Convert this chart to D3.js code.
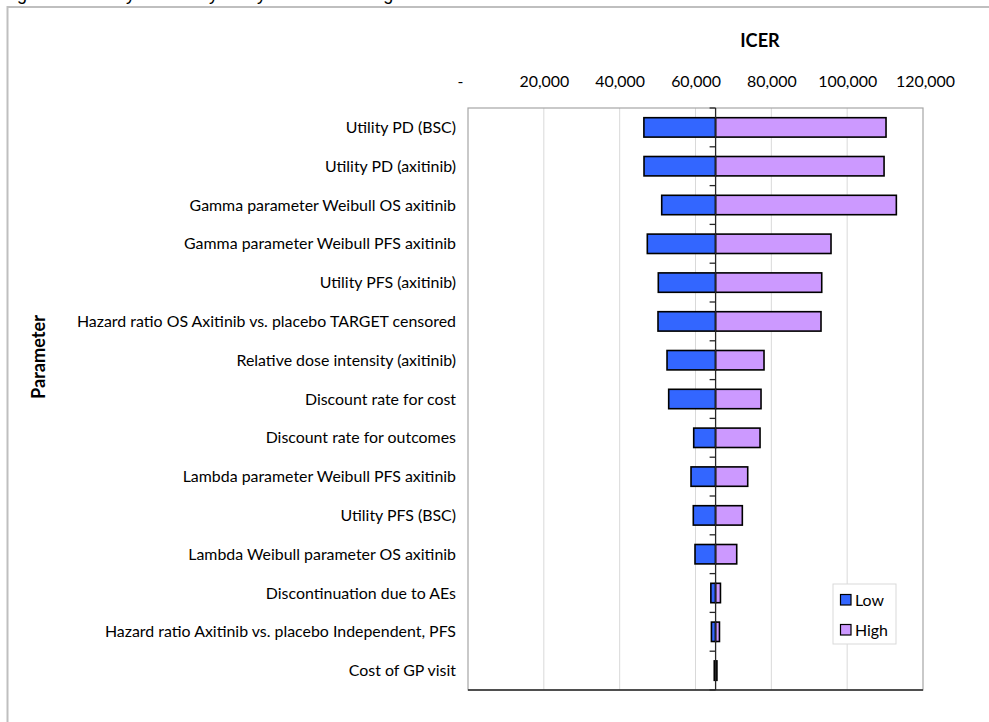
<!DOCTYPE html>
<html>
<head>
<meta charset="utf-8">
<script src="https://cdn.jsdelivr.net/npm/d3@7"></script>
<style>
  html, body { margin: 0; padding: 0; background: #fff; overflow: hidden; }
  svg { display: block; }
  text { font-family: Lato, "Open Sans", "Liberation Sans", sans-serif; fill: #000; }
</style>
</head>
<body>
<svg id="chart" width="989" height="722"></svg>
<script>
// ---- data ----
const categories = [
  "Utility PD (BSC)",
  "Utility PD (axitinib)",
  "Gamma parameter Weibull OS axitinib",
  "Gamma parameter Weibull PFS axitinib",
  "Utility PFS (axitinib)",
  "Hazard ratio OS Axitinib vs. placebo TARGET censored",
  "Relative dose intensity (axitinib)",
  "Discount rate for cost",
  "Discount rate for outcomes",
  "Lambda parameter Weibull PFS axitinib",
  "Utility PFS (BSC)",
  "Lambda Weibull parameter OS axitinib",
  "Discontinuation due to AEs",
  "Hazard ratio Axitinib vs. placebo Independent, PFS",
  "Cost of GP visit"
];
const lowValues  = [46390, 46420, 51090, 47290, 50190, 50110, 52490, 52930, 59530, 58820, 59420, 59870, 64050, 64200, 64950];
const highValues = [110250, 109730, 112970, 95740, 93290, 93100, 78070, 77280, 77020, 73770, 72350, 70870, 66580, 66320, 65650];
const baseValue = 65300;
const tickValues = [0, 20000, 40000, 60000, 80000, 100000, 120000];
const tickLabels = ["-", "20,000", "40,000", "60,000", "80,000", "100,000", "120,000"];
const seriesNames = ["Low", "High"];
const seriesColors = ["#3366FF", "#CC99FF"];
const titleText = "Figure: One-way sensitivity analysis tornado diagram";

// ---- layout ----
const svg = d3.select("#chart");
const plot = { left: 468, right: 923, top: 108, bottom: 690 };

// fit regular font so the longest category label is ~379px wide
const probe = svg.append("text").style("font-size", "14.67px")
  .text("Hazard ratio OS Axitinib vs. placebo TARGET censored");
const fontSize = 14.67 * 379 / probe.node().getComputedTextLength();
probe.remove();
const probeB = svg.append("text").style("font-size", "14.67px").style("font-weight", "bold").text("Parameter");
const boldSize = 14.67 * 84 / probeB.node().getComputedTextLength();
probeB.remove();

const x = d3.scaleLinear().domain([0, 120000]).range([plot.left, plot.right]);
const y = d3.scaleBand().domain(categories).range([plot.top, plot.bottom]).paddingInner(0.5).paddingOuter(0.25);

// cropped caption above the chart (only descenders visible)
svg.append("text")
  .attr("x", 2).attr("y", 0)
  .style("font-family", "'Liberation Sans', Arial, sans-serif")
  .style("font-size", "18px")
  .text(titleText);

// outer chart-area border
svg.append("rect")
  .attr("x", 7.5).attr("y", 7)
  .attr("width", 1100).attr("height", 900)
  .attr("fill", "none").attr("stroke", "#bfbfbf").attr("stroke-width", 2);

// gridlines
svg.append("g").selectAll("line")
  .data(tickValues.slice(1, -1))
  .join("line")
  .attr("x1", d => x(d)).attr("x2", d => x(d))
  .attr("y1", plot.top).attr("y2", plot.bottom)
  .attr("stroke", "#d9d9d9").attr("stroke-width", 1);

// plot border
svg.append("rect")
  .attr("x", plot.left).attr("y", plot.top)
  .attr("width", plot.right - plot.left).attr("height", plot.bottom - plot.top)
  .attr("fill", "none").attr("stroke", "#a6a6a6").attr("stroke-width", 1.2);
svg.append("line")
  .attr("x1", plot.left).attr("x2", plot.right)
  .attr("y1", plot.bottom).attr("y2", plot.bottom)
  .attr("stroke", "#262626").attr("stroke-width", 1.5);

// top value axis labels
const axis = d3.axisTop(x)
  .tickValues(tickValues)
  .tickFormat((d, i) => tickLabels[i])
  .tickSize(0).tickPadding(21);
const ax = svg.append("g").attr("transform", `translate(0,${plot.top})`).call(axis);
ax.select(".domain").remove();
ax.selectAll("text")
  .style("font-family", "Lato, 'Open Sans', sans-serif")
  .style("font-size", fontSize + "px")
  .attr("fill", "#000")
  .attr("dx", (d, i) => i === 0 ? -8 : (i === 6 ? 2 : 0));

// bars
const bars = svg.append("g");
categories.forEach((c, i) => {
  bars.append("rect")
    .attr("x", x(lowValues[i])).attr("y", y(c))
    .attr("width", x(baseValue) - x(lowValues[i])).attr("height", y.bandwidth())
    .attr("fill", seriesColors[0]).attr("stroke", "#000").attr("stroke-width", 1.6);
  bars.append("rect")
    .attr("x", x(baseValue)).attr("y", y(c))
    .attr("width", x(highValues[i]) - x(baseValue)).attr("height", y.bandwidth())
    .attr("fill", seriesColors[1]).attr("stroke", "#000").attr("stroke-width", 1.6);
});

// vertical category axis at base value, with ticks between categories
const cx = x(baseValue);
svg.append("line")
  .attr("x1", cx).attr("x2", cx).attr("y1", plot.top).attr("y2", plot.bottom)
  .attr("stroke", "#262626").attr("stroke-width", 1.3);
d3.range(categories.length + 1).forEach(k => {
  const yy = plot.top + k * (plot.bottom - plot.top) / categories.length;
  svg.append("line")
    .attr("x1", cx - 6).attr("x2", cx).attr("y1", yy).attr("y2", yy)
    .attr("stroke", "#262626").attr("stroke-width", 1.3);
});

// category labels
svg.append("g").selectAll("text")
  .data(categories)
  .join("text")
  .attr("x", 456)
  .attr("y", d => y(d) + y.bandwidth() / 2)
  .attr("dy", "0.35em")
  .attr("text-anchor", "end")
  .style("font-size", fontSize + "px")
  .text(d => d);

// axis titles
svg.append("text")
  .attr("x", 760).attr("y", 41)
  .attr("dy", "0.35em")
  .attr("text-anchor", "middle")
  .style("font-size", boldSize + "px").style("font-weight", "bold")
  .text("ICER");
svg.append("text")
  .attr("transform", "translate(39,357) rotate(-90)")
  .attr("dy", "0.35em")
  .attr("text-anchor", "middle")
  .style("font-size", boldSize + "px").style("font-weight", "bold")
  .text("Parameter");

// legend
const lg = svg.append("g");
lg.append("rect")
  .attr("x", 833).attr("y", 584).attr("width", 63).attr("height", 60)
  .attr("fill", "#fff").attr("stroke", "#d9d9d9").attr("stroke-width", 1);
seriesNames.forEach((s, i) => {
  const yy = 600 + i * 30;
  lg.append("rect")
    .attr("x", 840.5).attr("y", yy - 5.5).attr("width", 10.5).attr("height", 10.5)
    .attr("fill", seriesColors[i]).attr("stroke", "#000").attr("stroke-width", 1.2);
  lg.append("text")
    .attr("x", 855).attr("y", yy).attr("dy", "0.35em")
    .style("font-size", fontSize + "px")
    .text(s);
});
</script>
</body>
</html>
